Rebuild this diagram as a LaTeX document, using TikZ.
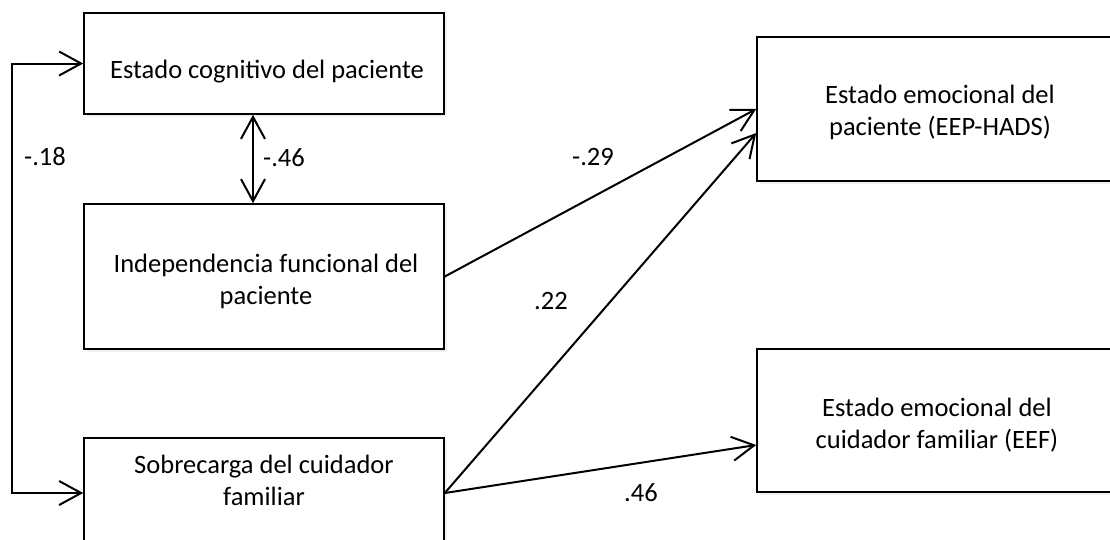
\documentclass[tikz,border=0pt]{standalone}
\usepackage{fontspec}
\setmainfont{Carlito}
\usetikzlibrary{arrows.meta,shadows}
\begin{document}
\begin{tikzpicture}[x=1pt,y=-1pt,
  box/.style={draw, line width=1.6pt, fill=white, rectangle, inner sep=0pt,
    drop shadow={shadow xshift=3pt, shadow yshift=-3pt, opacity=0.12}},
  boxtext/.style={align=center, font=\fontsize{26.5}{32}\selectfont, inner sep=0pt},
  coef/.style={font=\fontsize{26.5}{32}\selectfont, inner sep=0pt},
  barb/.style={Straight Barb[length=22pt, width=24pt, line width=2pt]},
  path/.style={line width=2pt, -{Straight Barb[length=22pt, width=24pt, line width=2pt]}},
  bipath/.style={line width=2pt, {Straight Barb[length=22pt, width=24pt, line width=2pt]}-{Straight Barb[length=22pt, width=24pt, line width=2pt]}}]
\useasboundingbox (0,0) rectangle (1110,539);
\clip (0,0) rectangle (1110,539);

% predictor boxes
\node[box, minimum width=360pt, minimum height=101pt] (b1) at (264,63.5) {};
\node[box, minimum width=360pt, minimum height=145pt] (b2) at (264,276.5) {};
\node[box, minimum width=360pt, minimum height=110pt] (b3) at (264,493) {};
% outcome boxes
\node[box, minimum width=373pt, minimum height=144pt] (b4) at (943.5,109) {};
\node[box, minimum width=373pt, minimum height=143pt] (b5) at (943.5,420.5) {};

\node[boxtext] (t1) at (267,72) {Estado cognitivo del paciente};
\node[boxtext] (t2) at (266,281) {Independencia funcional del\\paciente};
\node[boxtext] (t3) at (264,480) {Sobrecarga del cuidador\\familiar};
\node[boxtext] (t4) at (940,112) {Estado emocional del\\paciente (EEP-HADS)};
\node[boxtext] (t5) at (937,425) {Estado emocional del\\cuidador familiar (EEF)};

% correlations
\coordinate (mx) at (253,0);
\draw[bipath] (b1.west) -- ++(-71,0) |- (b3.west);
\draw[bipath] (b1.south -| mx) -- (b2.north -| mx);

% regression paths
\draw[path] (b2.east) -- (b4.west);
\draw[path] (b3.east) -- ([yshift=-24pt]b4.west);
\draw[path] (b3.east) -- ([yshift=-24.5pt]b5.west);

% coefficients
\node[coef] (c18) at (45,157) {-.18};
\node[coef] (c46a) at (284,158) {-.46};
\node[coef] (c29) at (593,157) {-.29};
\node[coef] (c22) at (551,301) {.22};
\node[coef] (c46b) at (641,493) {.46};
\end{tikzpicture}
\end{document}
